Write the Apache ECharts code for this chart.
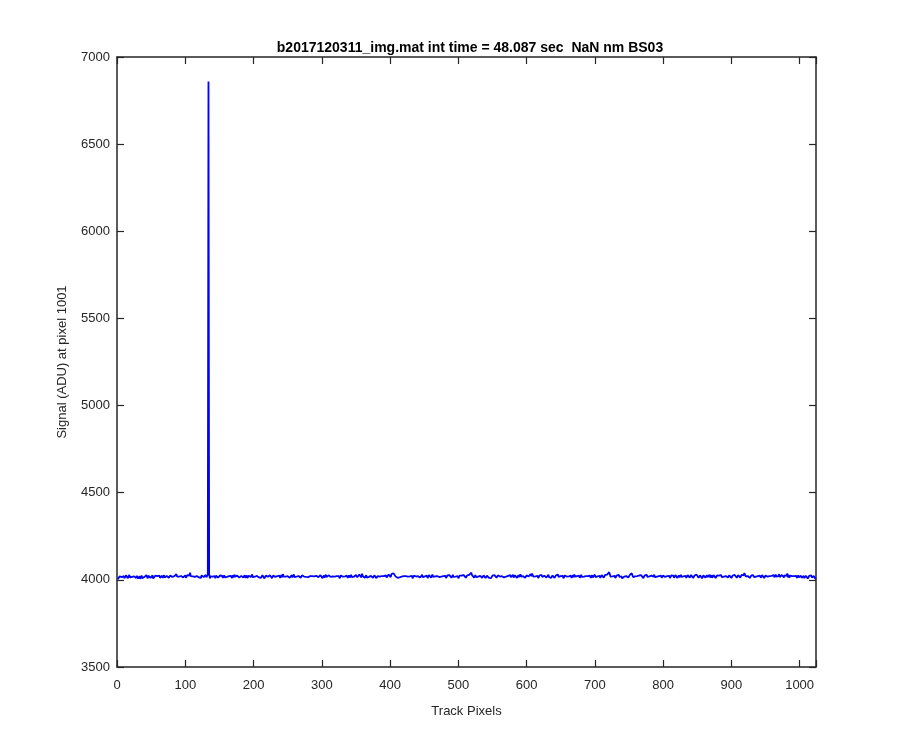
<!DOCTYPE html>
<html>
<head>
<meta charset="utf-8">
<script src="https://cdn.jsdelivr.net/npm/echarts@6/dist/echarts.min.js"></script>
<style>html,body{margin:0;padding:0;background:#fff}#c{width:900px;height:750px}</style>
</head>
<body>
<div id="c"></div>
<script>
var titleText = 'b2017120311_img.mat int time = 48.087 sec  NaN nm BS03';
var xName = 'Track Pixels';
var yName = 'Signal (ADU) at pixel 1001';
var xTicks = [0,100,200,300,400,500,600,700,800,900,1000];
var yTicks = [3500,4000,4500,5000,5500,6000,6500,7000];
// signal at track pixels 1..1024
var signal = [
4003,4008,4012,4020,4011,4024,4016,4027,4013,4021,4009,4019,4026,4015,4023,4010,4018,4028,4014,4022,4008,4017,4025,4012,4020,4029,4016,4011,4023,4018,4007,4015,
4021,4006,4014,4025,4010,4019,4004,4016,4023,4012,4027,4018,4009,4024,4031,4017,4011,4022,4015,4026,4008,4019,4013,4024,4029,4016,4021,4010,4018,4025,4012,4006,
4015,4024,4011,4020,4027,4013,4018,4009,4022,4016,4028,4012,4019,4025,4014,4030,4017,4023,4010,4021,4026,4015,4032,4019,4012,4024,4018,4027,4013,4022,4016,4029,
4014,4023,4018,4026,4012,4021,4027,4016,4033,4025,4041,4022,4029,4015,4020,4011,4024,4017,4028,4013,4022,4019,4030,4014,4025,4018,4011,4026,4021,4031,4016,4024,
4019,4028,4015,4023,4030,6860,4034,4008,4020,4012,4026,4018,4029,4014,4022,4009,4024,4017,4027,4013,4021,4010,4025,4019,4015,4023,4011,4020,4026,4014,4022,4008,
4017,4025,4012,4021,4028,4015,4023,4010,4019,4026,4014,4030,4018,4022,4011,4024,4016,4027,4013,4020,4009,4023,4017,4029,4014,4021,4026,4012,4019,4025,4010,4018,
4024,4013,4027,4016,4021,4031,4015,4022,4009,4018,4026,4012,4023,4017,4028,4014,4020,4025,4011,4019,4027,4016,4022,4008,4017,4024,4013,4029,4018,4021,4012,4026,
4015,4022,4010,4019,4025,4014,4030,4017,4023,4012,4021,4027,4016,4024,4011,4020,4028,4015,4033,4019,4024,4013,4018,4026,4009,4021,4016,4025,4012,4023,4018,4027,
4014,4020,4031,4016,4023,4010,4018,4025,4013,4022,4017,4028,4012,4021,4026,4015,4032,4019,4024,4011,4017,4023,4008,4016,4025,4013,4021,4027,4015,4022,4018,4011,
4020,4026,4014,4023,4017,4029,4015,4021,4012,4027,4018,4024,4010,4019,4025,4013,4022,4030,4016,4021,4011,4026,4019,4033,4017,4023,4014,4020,4027,4012,4018,4024,
4013,4021,4028,4016,4022,4009,4019,4025,4014,4030,4018,4023,4012,4020,4027,4015,4024,4011,4017,4026,4013,4022,4029,4016,4021,4010,4018,4025,4014,4028,4019,4015,
4023,4017,4031,4020,4026,4014,4035,4022,4016,4024,4011,4019,4027,4013,4021,4008,4017,4025,4015,4023,4019,4028,4012,4021,4026,4016,4024,4010,4018,4022,4014,4029,
4018,4024,4013,4022,4027,4015,4021,4010,4019,4026,4014,4023,4017,4030,4021,4026,4016,4033,4024,4029,4038,4027,4032,4020,4015,4023,4012,4018,4006,4014,4003,4011,
4019,4025,4014,4022,4028,4016,4021,4011,4024,4018,4027,4013,4020,4026,4015,4023,4009,4018,4024,4014,4031,4019,4025,4012,4021,4016,4027,4013,4022,4018,4029,4015,
4022,4012,4020,4026,4015,4024,4010,4019,4027,4016,4023,4013,4021,4030,4017,4024,4011,4020,4026,4014,4022,4018,4032,4016,4023,4012,4019,4025,4015,4021,4028,4017,
4023,4010,4018,4025,4014,4021,4027,4016,4024,4012,4020,4029,4017,4023,4013,4019,4026,4015,4022,4009,4018,4024,4031,4019,4025,4014,4021,4027,4016,4022,4012,4020,
4026,4016,4023,4029,4021,4034,4041,4028,4019,4024,4013,4021,4027,4015,4022,4010,4019,4025,4014,4023,4017,4028,4012,4020,4026,4016,4022,4011,4018,4024,4014,4021,
4012,4004,4001,4010,4018,4024,4014,4022,4027,4016,4023,4012,4020,4026,4015,4030,4019,4024,4013,4021,4017,4028,4014,4022,4010,4019,4025,4016,4023,4012,4020,4027,
4015,4023,4018,4029,4013,4021,4026,4016,4024,4011,4019,4027,4015,4022,4032,4018,4025,4013,4021,4017,4028,4012,4020,4026,4015,4023,4019,4030,4024,4033,4021,4036,
4027,4019,4024,4012,4020,4026,4015,4023,4010,4018,4025,4014,4022,4028,4016,4021,4011,4024,4019,4027,4013,4022,4017,4029,4015,4021,4026,4012,4020,4025,4016,4023,
4011,4019,4026,4015,4022,4030,4017,4024,4013,4021,4027,4016,4023,4009,4018,4025,4014,4022,4019,4028,4012,4020,4026,4017,4024,4011,4019,4027,4015,4031,4018,4023,
4014,4021,4027,4016,4024,4012,4020,4029,4017,4023,4010,4019,4025,4015,4022,4028,4013,4021,4026,4016,4024,4011,4019,4027,4014,4022,4018,4030,4016,4023,4012,4020,
4026,4015,4023,4011,4019,4027,4016,4022,4013,4021,4028,4017,4024,4030,4021,4036,4044,4032,4018,4025,4012,4020,4026,4015,4023,4010,4019,4025,4014,4022,4029,4017,
4023,4012,4020,4008,4002,4011,4019,4025,4014,4022,4017,4028,4013,4021,4027,4033,4024,4038,4029,4016,4023,4012,4020,4026,4015,4022,4011,4019,4025,4014,4021,4027,
4016,4024,4010,4019,4026,4015,4023,4029,4017,4022,4012,4020,4027,4016,4024,4013,4021,4018,4030,4015,4023,4011,4019,4026,4014,4022,4028,4017,4024,4012,4020,4025,
4014,4022,4017,4028,4013,4021,4026,4015,4023,4010,4019,4025,4031,4018,4024,4012,4020,4027,4016,4022,4011,4019,4026,4014,4023,4029,4017,4021,4012,4020,4025,4015,
4023,4011,4019,4027,4016,4024,4013,4021,4028,4017,4022,4010,4018,4025,4014,4023,4030,4019,4024,4012,4020,4026,4015,4022,4009,4018,4025,4016,4023,4013,4021,4027,
4015,4022,4018,4029,4014,4021,4026,4012,4020,4027,4016,4023,4011,4019,4025,4033,4017,4024,4013,4021,4028,4015,4022,4010,4019,4026,4014,4022,4017,4029,4013,4020,
4026,4015,4023,4011,4019,4025,4014,4022,4028,4017,4024,4012,4020,4027,4016,4023,4013,4021,4029,4018,4033,4026,4039,4031,4020,4027,4014,4022,4017,4025,4011,4019,
4024,4013,4021,4028,4016,4023,4010,4019,4026,4015,4022,4030,4017,4024,4012,4020,4027,4016,4023,4011,4019,4025,4014,4022,4018,4029,4013,4021,4026,4015,4023,4012,
4020,4027,4015,4023,4030,4018,4024,4012,4021,4033,4016,4025,4011,4028,4019,4035,4014,4026,4031,4017,4023,4037,4015,4028,4012,4024,4032,4016,4021,4029,4013,4022,
4027,4016,4023,4011,4019,4026,4014,4021,4017,4024,4012,4020,4015,4022,4010,4018,4024,4013,4021,4008,4016,4023,4012,4019,4026,4014,4009,4017,4022,4012,4006,4010
];

var FONT = '"Liberation Sans", Arial, Helvetica, sans-serif';
var AX = '#262626';
var chart = echarts.init(document.getElementById('c'), null, {renderer: 'canvas'});
var seriesData = signal.map(function (v, i) { return [i + 1, v]; });

function axisCommon(showLabel) {
  return {
    axisLine: {show: true, onZero: false, lineStyle: {color: AX, width: 1.5}},
    axisTick: {show: true, inside: true, length: 7, lineStyle: {color: AX, width: 1.2}},
    splitLine: {show: false},
    axisLabel: {show: showLabel, color: AX, fontSize: 13, fontFamily: FONT}
  };
}
var xb = axisCommon(true), xt = axisCommon(false), yl = axisCommon(true), yr = axisCommon(false);
function xFmt(v) { return xTicks.indexOf(v) >= 0 ? String(v) : ''; }
function yFmt(v) { return yTicks.indexOf(v) >= 0 ? String(v) : ''; }
xb.axisLabel.formatter = xFmt; xb.axisLabel.margin = 12;
yl.axisLabel.formatter = yFmt; yl.axisLabel.margin = 7;

var option = {
  animation: false,
  backgroundColor: '#ffffff',
  title: {
    text: titleText, left: 465, top: 36, textAlign: 'center',
    textStyle: {fontFamily: FONT, fontSize: 14, fontWeight: 'bold', color: '#000'}
  },
  grid: {left: 117, right: 84, top: 57, bottom: 83, containLabel: false},
  xAxis: [
    Object.assign({type: 'value', position: 'bottom', min: xTicks[0], max: 1024, interval: 100,
      name: xName, nameLocation: 'middle', nameGap: 38,
      nameTextStyle: {fontFamily: FONT, fontSize: 13, color: AX}}, xb),
    Object.assign({type: 'value', position: 'top', min: xTicks[0], max: 1024, interval: 100}, xt)
  ],
  yAxis: [
    Object.assign({type: 'value', position: 'left', min: yTicks[0], max: yTicks[yTicks.length - 1], interval: 500,
      name: yName, nameLocation: 'middle', nameGap: 48, nameRotate: 90,
      nameTextStyle: {fontFamily: FONT, fontSize: 13, color: AX}}, yl),
    Object.assign({type: 'value', position: 'right', min: yTicks[0], max: yTicks[yTicks.length - 1], interval: 500}, yr)
  ],
  series: [{
    type: 'line', data: seriesData, xAxisIndex: 0, yAxisIndex: 0,
    showSymbol: false, symbol: 'none', sampling: null,
    lineStyle: {color: '#0000ff', width: 1.8}, itemStyle: {color: '#0000ff'}
  }]
};
chart.setOption(option);
</script>
</body>
</html>
